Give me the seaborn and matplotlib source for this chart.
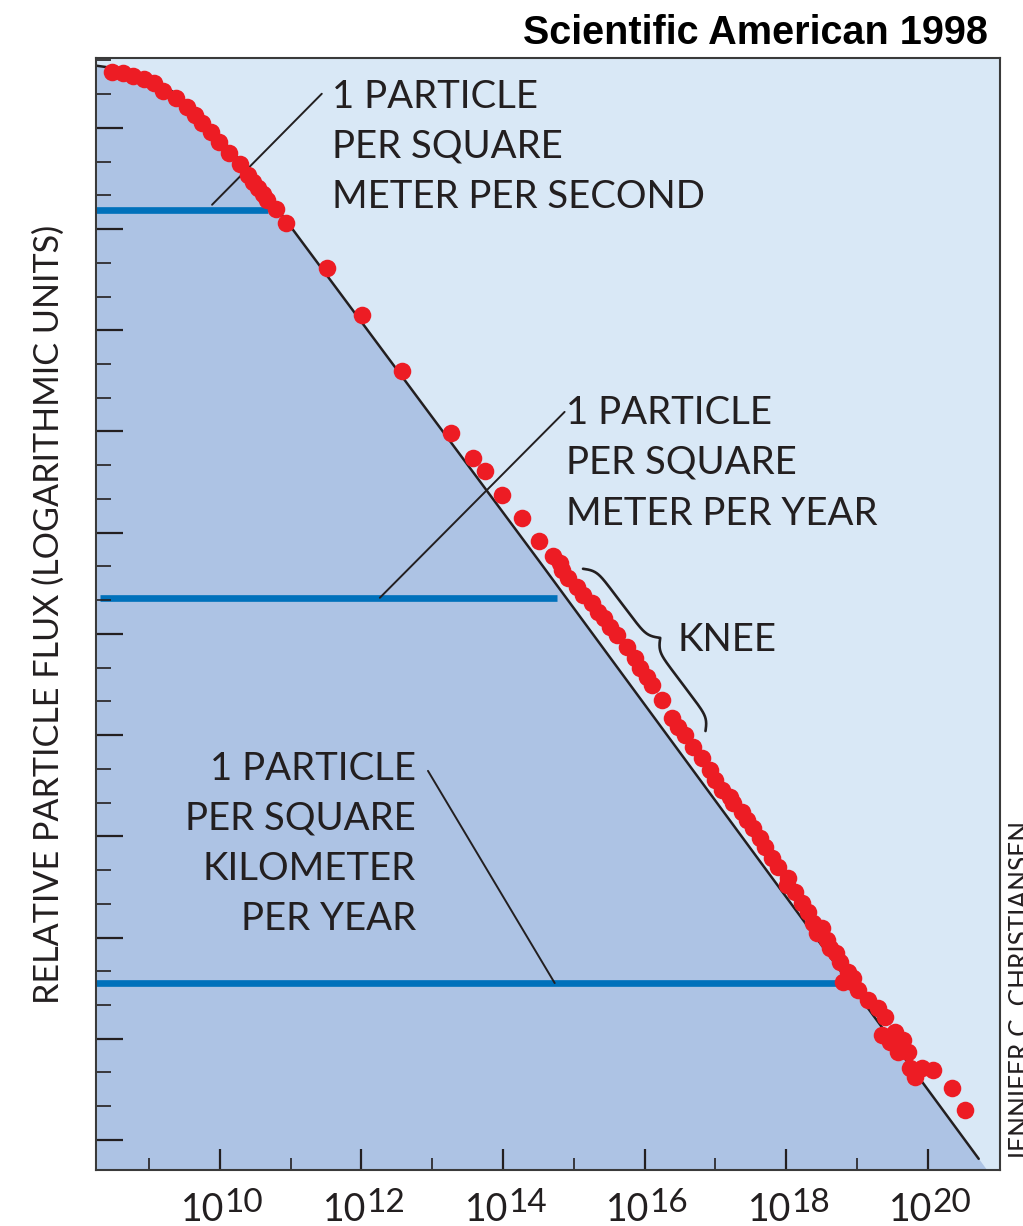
import numpy as np
import matplotlib
matplotlib.use('Agg')
import matplotlib.pyplot as plt
import seaborn as sns
from matplotlib.ticker import FixedLocator, MultipleLocator, NullFormatter

# measured cosmic-ray flux points (log10 energy in eV, relative log flux)
dot_log_energy = [8.47, 8.63, 8.77, 8.93, 9.07, 9.20, 9.38, 9.53, 9.65, 9.75,
                  9.87, 9.99, 10.13, 10.28, 10.40, 10.47, 10.54, 10.61, 10.66, 10.79,
                  10.93, 11.51, 12.01, 12.57, 13.26, 13.57, 13.74, 13.98, 14.27, 14.51,
                  14.70, 14.80, 14.84, 14.92, 15.04, 15.13, 15.25, 15.34, 15.42, 15.51,
                  15.61, 15.75, 15.86, 15.93, 16.03, 16.10, 16.24, 16.38, 16.47, 16.57,
                  16.68, 16.81, 16.92, 16.99, 17.09, 17.20, 17.25, 17.37, 17.44, 17.53,
                  17.63, 17.70, 17.80, 17.88, 18.02, 18.01, 18.12, 18.23, 18.31, 18.38,
                  18.50, 18.43, 18.57, 18.62, 18.71, 18.76, 18.87, 18.94, 18.80, 18.93,
                  19.01, 19.15, 19.29, 19.39, 19.36, 19.53, 19.46, 19.65, 19.58, 19.72,
                  19.75, 19.82, 19.92, 20.07, 20.34, 20.52]
dot_log_flux = [31.66, 31.63, 31.54, 31.45, 31.33, 31.10, 30.89, 30.62, 30.39, 30.15,
                29.88, 29.58, 29.26, 28.93, 28.61, 28.40, 28.22, 28.04, 27.87, 27.60,
                27.18, 25.85, 24.46, 22.80, 20.96, 20.22, 19.83, 19.12, 18.44, 17.76,
                17.31, 17.10, 16.90, 16.66, 16.39, 16.16, 15.92, 15.65, 15.47, 15.21,
                14.97, 14.61, 14.29, 13.99, 13.73, 13.49, 13.04, 12.51, 12.24, 12.01,
                11.65, 11.32, 10.97, 10.67, 10.38, 10.17, 9.99, 9.72, 9.49, 9.25,
                8.95, 8.69, 8.36, 8.09, 7.77, 7.56, 7.35, 7.03, 6.76, 6.43,
                6.28, 6.14, 5.93, 5.69, 5.54, 5.28, 4.98, 4.80, 4.68, 4.68,
                4.45, 4.15, 3.91, 3.65, 3.11, 3.20, 2.91, 2.96, 2.61, 2.61,
                2.13, 1.87, 2.13, 2.08, 1.54, 0.89]

# power-law reference curve
model_log_energy = [8.26, 8.47, 8.77, 9.07, 9.38, 9.65, 9.87, 10.13, 10.40, 10.66,
                    10.93, 14.52, 20.72]
model_log_flux = [31.84, 31.78, 31.63, 31.42, 31.01, 30.53, 30.03, 29.41, 28.73, 27.98,
                  27.27, 17.13, -0.56]

# "1 particle per ..." rate levels
rate_log_flux = [27.57, 16.07, 4.65]
rate_log_energy_start = [8.25, 8.31, 8.25]
rate_log_energy_end = [10.68, 14.76, 18.73]

x_major_exp = [10, 12, 14, 16, 18, 20]
x_minor_exp = [9, 11, 13, 15, 17, 19]

xlim_exp = (8.25, 21.02)
ylim = (-0.89, 32.07)

light_bg = '#d9e8f6'
dark_fill = '#adc3e4'
rate_blue = '#0071bb'
dot_red = '#ed1c24'
ink = '#231f20'

sns.set_theme(style='ticks')
plt.rcParams['font.family'] = ['Lato', 'DejaVu Sans']

fig = plt.figure(figsize=(10.23, 12.26), dpi=100)
ax = fig.add_axes([0.0938, 0.0457, 0.8837, 0.9070])
ax.set_xscale('log')
ax.set_xlim(10 ** xlim_exp[0], 10 ** xlim_exp[1])
ax.set_ylim(*ylim)
ax.set_facecolor(light_bg)
ax.set_axisbelow(False)

# dark region under the curve, extended down to the bottom edge
me = np.array(model_log_energy)
mf = np.array(model_log_flux)
slope = (mf[-1] - mf[-2]) / (me[-1] - me[-2])
x_end = me[-1] + (ylim[0] - mf[-1]) / slope
fx = np.append(me, x_end)
fy = np.append(mf, ylim[0])
ax.fill_between(10 ** fx, fy, ylim[0], color=dark_fill, lw=0, zorder=1)

for y, x0, x1 in zip(rate_log_flux, rate_log_energy_start, rate_log_energy_end):
    ax.plot([10 ** x0, 10 ** x1], [y, y], color=rate_blue, lw=4.8,
            solid_capstyle='butt', zorder=2)

sns.lineplot(x=10 ** me, y=mf, sort=False, estimator=None, color=ink,
             lw=1.8, ax=ax, zorder=3)
sns.scatterplot(x=10 ** np.array(dot_log_energy), y=dot_log_flux, s=160,
                color=dot_red, linewidth=0, ax=ax, zorder=5)

# leader lines
leaders = [((9.89, 27.72), (11.44, 31.01)),
           ((12.26, 16.07), (14.87, 21.58)),
           ((14.73, 4.65), (12.94, 10.94))]
for (xa, ya), (xb, yb) in leaders:
    ax.plot([10 ** xa, 10 ** xb], [ya, yb], color=ink, lw=1.4, zorder=4)

txt = dict(fontsize=27.6, color=ink, va='baseline')
for line, y in zip(['1 PARTICLE', 'PER SQUARE', 'METER PER SECOND'], [30.59, 29.11, 27.63]):
    ax.text(10 ** 11.58, y, line, ha='left', **txt)
for line, y in zip(['1 PARTICLE', 'PER SQUARE', 'METER PER YEAR'], [21.23, 19.74, 18.23]):
    ax.text(10 ** 14.89, y, line, ha='left', **txt)
for line, y in zip(['1 PARTICLE', 'PER SQUARE', 'KILOMETER', 'PER YEAR'],
                   [10.67, 9.19, 7.71, 6.23]):
    ax.text(10 ** 12.77, y, line, ha='right', **txt)
ax.text(10 ** 16.47, 14.50, 'KNEE', ha='left', **txt)


def curly_brace(ax, p0, p1, depth, beta=0.25, **kw):
    t = ax.transData
    a = t.transform((10 ** p0[0], p0[1]))
    b = t.transform((10 ** p1[0], p1[1]))
    d = b - a
    L = np.hypot(*d)
    u = d / L
    n = np.array([-u[1], u[0]])
    xs = np.linspace(0, L, 401)
    xh = xs[:201]
    yh = 1 / (1 + np.exp(-beta * (xh - xh[0]))) + 1 / (1 + np.exp(-beta * (xh - xh[-1])))
    ys = np.concatenate((yh, yh[-2::-1])) - 0.5
    pts = a[None, :] + xs[:, None] * u[None, :] + (ys * depth)[:, None] * n[None, :]
    dpts = t.inverted().transform(pts)
    ax.plot(dpts[:, 0], dpts[:, 1], **kw)


curly_brace(ax, (15.13, 16.93), (16.86, 12.12), depth=20, beta=0.2,
            color=ink, lw=1.9, zorder=4)

# axes styling
ax.xaxis.set_major_locator(FixedLocator(10.0 ** np.array(x_major_exp)))
ax.xaxis.set_minor_locator(FixedLocator(10.0 ** np.array(x_minor_exp)))
ax.xaxis.set_major_formatter(NullFormatter())
ax.xaxis.set_minor_formatter(NullFormatter())
ax.yaxis.set_major_locator(MultipleLocator(3))
ax.yaxis.set_minor_locator(MultipleLocator(1))
ax.yaxis.set_major_formatter(NullFormatter())
ax.yaxis.set_minor_formatter(NullFormatter())
ax.tick_params(which='both', direction='in', color=ink, bottom=True, left=True,
               top=False, right=False)
ax.tick_params(axis='x', which='major', length=15, width=1.6)
ax.tick_params(axis='x', which='minor', length=9, width=1.2)
ax.tick_params(axis='y', which='major', length=19.5, width=1.6)
ax.tick_params(axis='y', which='minor', length=10.5, width=1.2)
for sp in ax.spines.values():
    sp.set_color('#3a3a3a')
    sp.set_linewidth(1.5)
    sp.set_zorder(6)
ax.set_xlabel('')
ax.set_ylabel('')

xa = ax.get_xaxis_transform()
for e in x_major_exp:
    ax.annotate('10', xy=(10.0 ** e, 0), xycoords=xa, xytext=(3.5, -37),
                textcoords='offset points', ha='right', va='baseline',
                fontsize=27, color=ink, annotation_clip=False)
    ax.annotate(str(e), xy=(10.0 ** e, 0), xycoords=xa, xytext=(3.5, -30),
                textcoords='offset points', ha='left', va='baseline',
                fontsize=24, color=ink, annotation_clip=False)

fig.text(49 / 1023, 1 - 614 / 1226, 'RELATIVE PARTICLE FLUX (LOGARITHMIC UNITS)',
         rotation=90, ha='center', va='center', fontsize=24.6, color=ink)
fig.text(988 / 1023, 1 - 44 / 1226, 'Scientific American 1998', ha='right',
         va='baseline', fontsize=28.5, fontweight='bold',
         family=['Liberation Sans', 'DejaVu Sans'], color='black')
fig.text(1009 / 1023, 1 - 1162 / 1226, 'JENNIFER C. CHRISTIANSEN', rotation=90,
         ha='left', va='bottom', fontsize=18.8, color=ink)

fig.savefig('out.png', dpi=100, facecolor='white')
